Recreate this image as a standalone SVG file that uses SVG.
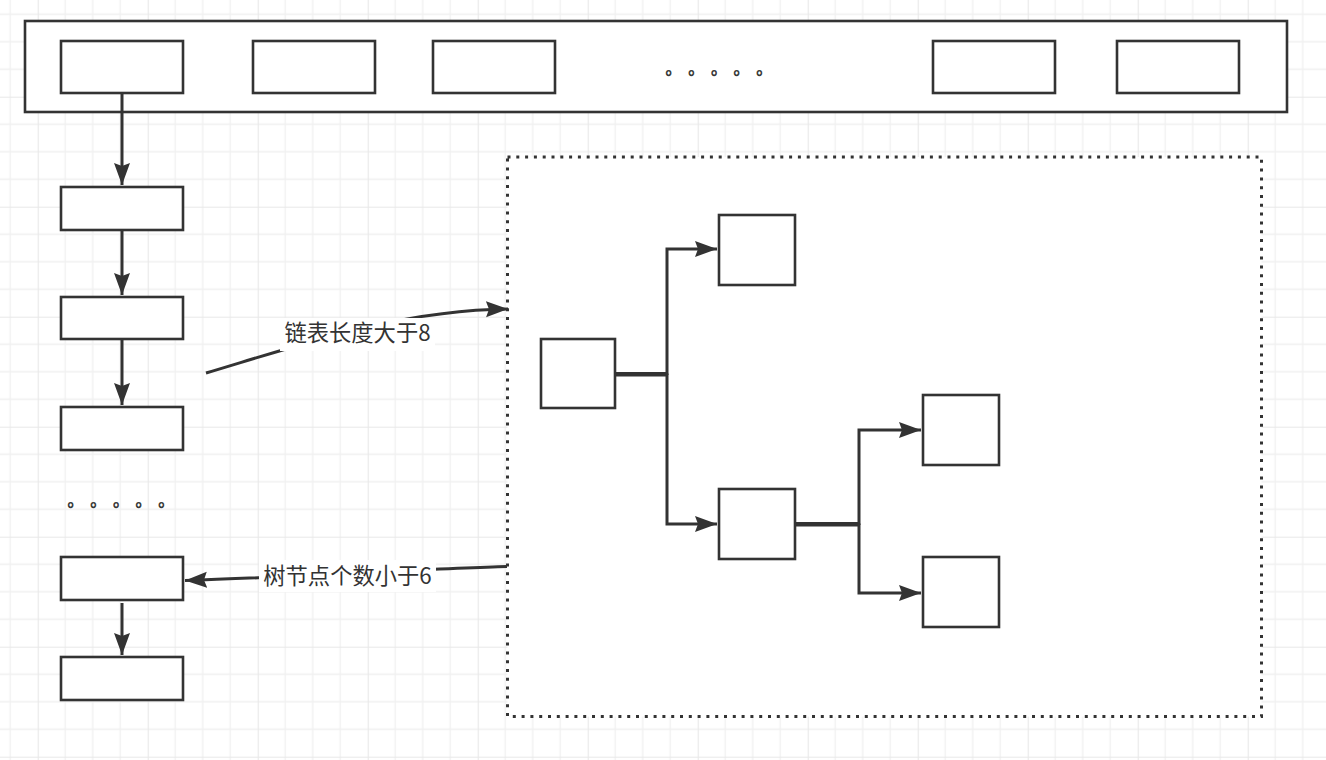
<svg xmlns="http://www.w3.org/2000/svg" width="1326" height="760" viewBox="0 0 1326 760">
  <defs>
    <pattern id="grid" patternUnits="userSpaceOnUse" x="37.7" y="96.7" width="110" height="110">
      <g stroke="#f0f0f0" stroke-width="1.3">
        <line x1="27.5" y1="0" x2="27.5" y2="110"/>
        <line x1="55" y1="0" x2="55" y2="110"/>
        <line x1="82.5" y1="0" x2="82.5" y2="110"/>
        <line x1="0" y1="27.5" x2="110" y2="27.5"/>
        <line x1="0" y1="55" x2="110" y2="55"/>
        <line x1="0" y1="82.5" x2="110" y2="82.5"/>
      </g>
      <g stroke="#e8e8e8" stroke-width="2.2">
        <line x1="0" y1="0" x2="0" y2="110"/>
        <line x1="0" y1="0" x2="110" y2="0"/>
      </g>
    </pattern>
    <marker id="arrow" markerUnits="userSpaceOnUse" markerWidth="24" markerHeight="18" refX="22" refY="8" orient="auto">
      <path d="M0,0 L22,8 L0,16 L3,8 Z" fill="#333"/>
    </marker>
    <style>
      .box { fill: #fff; stroke: #333; stroke-width: 2.6; }
      .conn { fill: none; stroke: #333; stroke-width: 3; }
      .lbl { font-family: "Noto Sans CJK SC", "Liberation Sans", sans-serif; font-size: 22.3px; fill: #333; }
      .dots { font-family: "Noto Sans CJK SC", sans-serif; font-size: 16px; fill: #333; stroke: #333; stroke-width: 0.6; }
      .lblbg { fill: #fff; }
    </style>
  </defs>

  <rect x="0" y="0" width="1326" height="760" fill="#fff"/>
  <rect x="0" y="0" width="1326" height="760" fill="url(#grid)"/>

  <g id="table">
    <rect class="box" x="25" y="21" width="1262" height="91"/>
  </g>
  <g id="bucket1"><rect class="box" x="61" y="41" width="122" height="52"/></g>
  <g id="bucket2"><rect class="box" x="253" y="41" width="122" height="52"/></g>
  <g id="bucket3"><rect class="box" x="433" y="41" width="122" height="52"/></g>
  <g id="bucket4"><rect class="box" x="933" y="41" width="122" height="52"/></g>
  <g id="bucket5"><rect class="box" x="1117" y="41" width="122" height="52"/></g>
  <g id="dots-top"><text class="dots" x="665.5 688.2 710.9 733.6 756.3" y="74">。。。。。</text></g>

  <g id="list1"><rect class="box" x="61" y="187" width="122" height="43"/></g>
  <g id="list2"><rect class="box" x="61" y="297" width="122" height="42"/></g>
  <g id="list3"><rect class="box" x="61" y="407" width="122" height="43"/></g>
  <g id="dots-left"><text class="dots" x="67.5 90.2 112.9 135.6 158.3" y="506">。。。。。</text></g>
  <g id="list4"><rect class="box" x="61" y="557" width="122" height="43"/></g>
  <g id="list5"><rect class="box" x="61" y="657" width="122" height="43"/></g>

  <g id="tree-area">
    <rect x="507.5" y="157" width="754" height="559.5" fill="#fff" stroke="#333" stroke-width="3" stroke-dasharray="3 5.8"/>
  </g>
  <g id="tree-root"><rect class="box" x="541" y="339" width="74" height="69"/></g>
  <g id="tree-a"><rect class="box" x="719" y="215" width="76" height="70"/></g>
  <g id="tree-b"><rect class="box" x="719" y="489" width="76" height="70"/></g>
  <g id="tree-c"><rect class="box" x="923" y="395" width="76" height="70"/></g>
  <g id="tree-d"><rect class="box" x="923" y="557" width="76" height="70"/></g>

  <g id="connectors">
    <path class="conn" d="M122,93 V185" marker-end="url(#arrow)"/>
    <path class="conn" d="M122,230 V295" marker-end="url(#arrow)"/>
    <path class="conn" d="M122,340 V405" marker-end="url(#arrow)"/>
    <path class="conn" d="M122,603 V655" marker-end="url(#arrow)"/>

    <path class="conn" d="M615,373.5 H667 V249 H717" marker-end="url(#arrow)"/>
    <path class="conn" d="M615,375 H667 V524 H717" marker-end="url(#arrow)"/>
    <path class="conn" d="M795,523.5 H859 V430 H921" marker-end="url(#arrow)"/>
    <path class="conn" d="M795,525 H859 V593 H921" marker-end="url(#arrow)"/>

    <path class="conn" d="M206,373 C300,345 400,310 508,309" marker-end="url(#arrow)"/>
    <path class="conn" d="M507,566.5 C440,568 300,577 185,580.5" marker-end="url(#arrow)"/>

    <rect class="lblbg" x="280" y="318" width="155" height="33"/>
    <text class="lbl" x="357.5" y="341" text-anchor="middle">链表长度大于8</text>
    <rect class="lblbg" x="259" y="560" width="177" height="32"/>
    <text class="lbl" x="347.5" y="584" text-anchor="middle">树节点个数小于6</text>
  </g>
</svg>
